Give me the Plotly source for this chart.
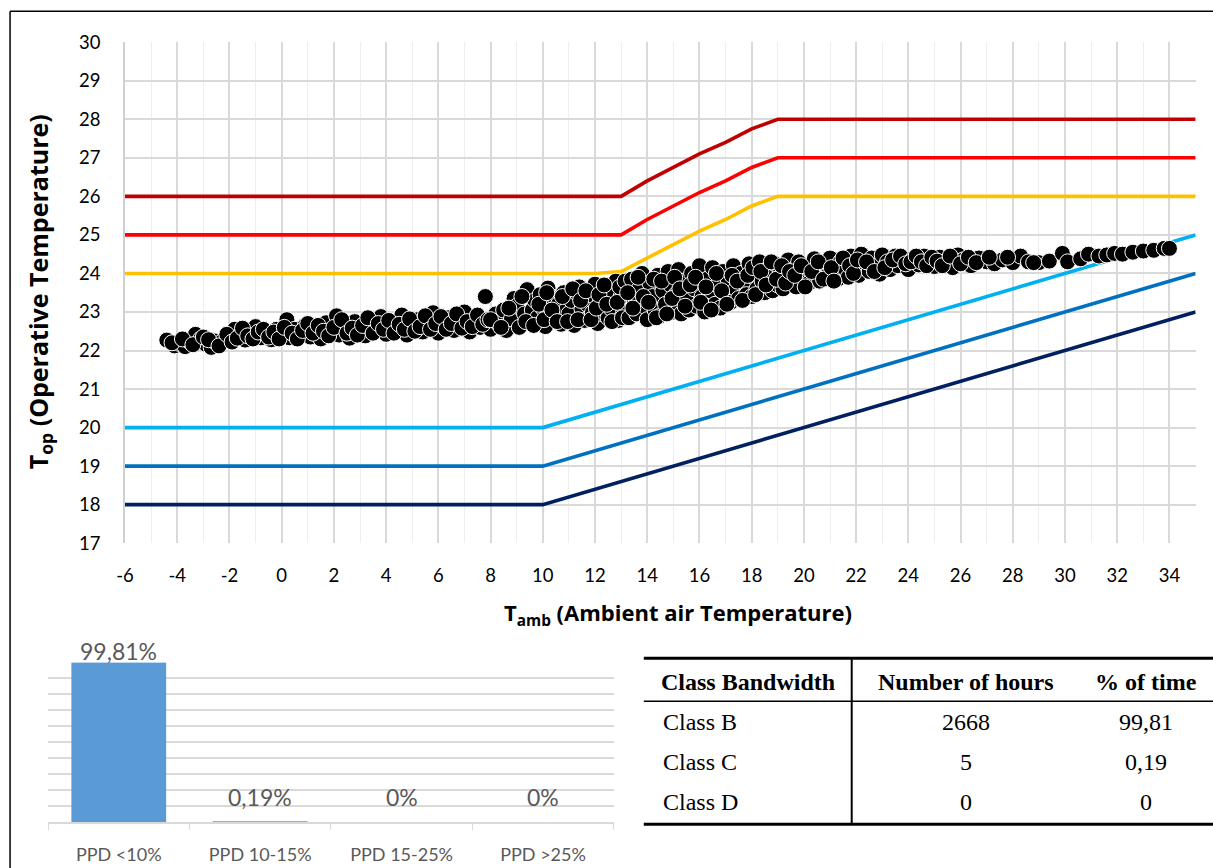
import plotly.graph_objects as go

# Layout is specified in target-page pixels (1213 x 868).  The html body keeps
# its default 8 px margin and the capture is slightly rescaled, so target pixels
# are mapped through SX / SY / OY before becoming paper fractions.
PAD = 8
SX, SY, OY = 0.993, 0.975, 3.0
W, H = 1214, 880

# ---------------- data ----------------
# comfort band limits (operative temperature vs ambient temperature)
band_x_hot = [-6, 13, 14, 15, 16, 17, 18, 19, 35]
cat_d_upper = [26, 26, 26.4, 26.75, 27.1, 27.4, 27.75, 28, 28]
cat_c_upper = [25, 25, 25.4, 25.75, 26.1, 26.4, 26.75, 27, 27]
band_x_b_upper = [-6, 12, 13, 14, 15, 16, 17, 18, 19, 35]
cat_b_upper = [24, 24, 24.05, 24.4, 24.75, 25.1, 25.4, 25.75, 26, 26]

band_x_cold = [-6, 10, 35]
cat_b_lower = [20, 20, 25]
cat_c_lower = [19, 19, 24]
cat_d_lower = [18, 18, 23]

# hourly measurements: ambient temperature
t_amb = [
    -4.4, -4.1, -3.9, -3.7, -3.5, -3.3, -3.1, -2.9, -2.7, -2.6, -2.3, -2.0,
    -1.8, -1.6, -1.4, -1.2, -1.0, -0.8, -0.6, -0.4, -0.2, 0.0, 0.2, 0.3,
    0.5, 0.7, 0.9, 1.1, 1.3, 1.5, 1.7, 1.9, 2.1, 2.2, 2.4, 2.6, 2.8, 3.0,
    3.2, 3.4, 3.6, 3.8, 4.0, 4.2, 4.4, 4.6, 4.8, 5.0, 5.2, 5.4, 5.6, 5.8,
    6.0, 6.2, 6.4, 6.6, 6.8, 7.0, 7.2, 7.4, 7.6, 7.8, 8.0, 8.1,
    -4.2, -3.8, -3.4, -3.0, -2.8, -2.4, -2.1, -1.9, -1.7, -1.5, -1.3, -1.1,
    -0.9, -0.7, -0.5, -0.3, -0.1, 0.1, 0.4, 0.6, 0.8, 1.0, 1.2, 1.4,
    1.6, 1.8, 2.0, 2.3, 2.5, 2.7, 2.9, 3.1, 3.3, 3.5, 3.7, 3.9,
    4.1, 4.3, 4.5, 4.7, 4.9, 5.1, 5.3, 5.5, 5.7, 5.9, 6.1, 6.3,
    6.5, 6.7, 6.9, 7.1, 7.3, 7.5, 7.7, 7.9,
    8.2, 8.3, 8.5, 8.6, 8.8, 8.9, 9.0, 9.1, 9.3, 9.4, 9.5, 9.6, 9.7, 9.8,
    9.9, 10.0, 10.1, 10.2, 10.3, 10.4, 10.5, 10.6, 10.7, 10.8, 10.9, 11.0,
    11.1, 11.2, 11.3, 11.4, 11.5, 11.6, 11.7, 11.8, 11.9, 12.0, 12.1, 12.2,
    12.3, 12.4, 12.5, 12.6, 12.7, 12.8, 12.9, 13.0, 13.1, 13.2,
    8.0, 8.4, 8.7, 9.2, 9.35, 9.65, 9.85, 10.05, 10.15, 10.35, 10.55, 10.75,
    10.95, 11.15, 11.35, 11.45, 11.65, 11.85, 12.05, 12.15, 12.35, 12.45, 12.65, 12.85,
    12.95, 13.05, 13.15,
    13.3, 13.4, 13.5, 13.6, 13.7, 13.8, 13.9, 14.0, 14.1, 14.2, 14.3, 14.4,
    14.5, 14.6, 14.7, 14.8, 14.9, 15.0, 15.1, 15.2, 15.3, 15.4, 15.5, 15.6,
    15.7, 15.8, 15.9, 16.0, 16.1, 16.2, 16.3, 16.4, 16.5, 16.6, 16.7, 16.8,
    16.9, 17.0, 17.1, 17.2, 17.3, 17.4, 17.5, 17.6, 17.7, 17.8, 17.9, 18.0,
    18.1,
    13.25, 13.45, 13.65, 13.85, 14.05, 14.25, 14.35, 14.55, 14.75, 14.95, 15.05, 15.25,
    15.45, 15.65, 15.85, 16.05, 16.25, 16.45, 16.65, 16.85, 17.05, 17.25, 17.45, 17.65,
    17.85, 18.05,
    18.2, 18.3, 18.4, 18.5, 18.6, 18.7, 18.8, 18.9, 19.0, 19.1, 19.2, 19.4,
    19.5, 19.6, 19.7, 19.8, 20.0, 20.1, 20.2, 20.4, 20.5, 20.6, 20.8, 20.9,
    21.0, 21.2, 21.3, 21.4, 21.6, 21.7, 21.8, 22.0, 22.1, 22.2, 22.3, 22.5,
    22.6, 22.8, 22.9, 23.0, 23.2, 23.3, 23.5, 23.6, 23.8, 24.0,
    18.15, 18.35, 18.55, 18.75, 18.95, 19.15, 19.3, 19.45, 19.65, 19.9, 20.05, 20.3,
    20.55, 20.75, 21.05, 21.15, 21.5, 21.75, 21.9, 22.05, 22.4, 22.7, 23.1, 23.4,
    23.7, 23.9,
    24.2, 24.4, 24.6, 24.8, 25.0, 25.2, 25.5, 25.7, 25.9, 26.1, 26.4, 26.7,
    27.0, 27.3, 27.6, 28.0, 28.3, 28.6, 29.0, 29.4, 29.9, 30.1, 30.6, 30.9,
    31.3, 31.6, 31.9, 32.2, 32.6, 33.0, 33.4, 33.8, 34.0,
    24.1, 24.3, 24.5, 24.7, 24.9, 25.1, 25.3, 25.6, 26.0, 26.3, 26.6, 27.1,
    27.8, 28.8,
]
# hourly measurements: operative temperature
t_op = [
    22.27, 22.12, 22.18, 22.10, 22.22, 22.42, 22.30, 22.16, 22.08, 22.25, 22.22, 22.30,
    22.55, 22.40, 22.27, 22.50, 22.62, 22.33, 22.45, 22.28, 22.55, 22.40, 22.80, 22.33,
    22.55, 22.42, 22.65, 22.35, 22.58, 22.30, 22.72, 22.48, 22.90, 22.40, 22.62, 22.32, 22.75, 22.50,
    22.38, 22.68, 22.52, 22.88, 22.42, 22.70, 22.55, 22.92, 22.40, 22.65, 22.80, 22.48, 22.72, 22.98,
    22.45, 22.62, 22.85, 22.52, 22.70, 23.00, 22.48, 22.78, 22.60, 23.40, 22.55, 22.88,
    22.20, 22.30, 22.15, 22.35, 22.28, 22.12, 22.42, 22.22, 22.32, 22.58, 22.38, 22.30,
    22.48, 22.55, 22.35, 22.48, 22.30, 22.60, 22.45, 22.30, 22.52, 22.70, 22.45, 22.65,
    22.50, 22.38, 22.60, 22.80, 22.45, 22.58, 22.40, 22.65, 22.85, 22.45, 22.70, 22.55,
    22.78, 22.45, 22.68, 22.55, 22.82, 22.50, 22.62, 22.90, 22.55, 22.70, 22.88, 22.55,
    22.70, 22.95, 22.58, 22.75, 22.62, 22.92, 22.68, 22.80,
    22.95, 22.70, 23.05, 22.52, 22.82, 23.35, 23.15, 22.60, 22.95, 23.58, 22.72, 23.05, 23.30, 22.85,
    23.45, 23.10, 22.62, 23.62, 23.40, 22.90, 23.30, 23.20, 22.68, 23.50, 23.05, 22.95,
    23.30, 22.65, 23.50, 23.65, 23.08, 22.78, 23.20, 23.45, 22.98, 23.72, 22.70, 23.25,
    22.95, 23.55, 22.85, 23.10, 23.45, 23.80, 22.78, 23.40, 23.00, 23.62,
    22.80, 22.60, 23.10, 23.40, 22.75, 22.65, 23.20, 22.80, 23.50, 23.05, 22.75, 23.40,
    22.75, 23.60, 22.80, 23.30, 23.55, 22.80, 23.10, 23.45, 23.70, 23.20, 22.75, 23.25,
    23.65, 22.85, 23.80,
    22.85, 23.85, 23.30, 22.95, 23.60, 24.00, 23.15, 22.80, 23.75, 23.40, 23.05, 23.95,
    22.90, 23.55, 23.20, 24.05, 23.70, 23.00, 23.45, 24.10, 22.95, 23.80, 23.30, 23.05,
    24.00, 23.60, 23.15, 24.20, 23.40, 23.00, 23.85, 23.55, 24.15, 23.20, 23.70, 23.10,
    24.05, 23.45, 23.85, 23.25, 24.20, 23.60, 23.35, 24.00, 23.75, 23.45, 24.25, 23.40,
    23.90,
    23.50, 23.10, 23.90, 23.40, 23.25, 23.85, 22.85, 23.80, 22.95, 23.35, 23.90, 23.60,
    23.15, 23.70, 23.90, 23.25, 23.65, 23.05, 24.00, 23.55, 23.20, 23.95, 23.80, 23.30,
    23.95, 24.15,
    23.60, 24.30, 23.80, 23.50, 24.10, 23.95, 23.55, 24.25, 23.70, 24.00, 23.60, 24.35,
    23.85, 24.10, 23.65, 24.30, 23.90, 24.15, 23.75, 24.38, 24.00, 23.80, 24.25, 23.95,
    24.40, 24.05, 23.85, 24.30, 24.10, 23.90, 24.45, 24.15, 23.95, 24.50, 24.25, 24.05,
    24.40, 24.20, 23.98, 24.48, 24.30, 24.10, 24.45, 24.20, 24.35, 24.10,
    23.45, 24.05, 23.70, 24.30, 23.85, 24.20, 23.75, 24.05, 23.95, 24.20, 23.65, 24.05,
    24.30, 23.85, 24.15, 23.80, 24.40, 24.20, 24.00, 24.35, 24.30, 24.05, 24.15, 24.35,
    24.45, 24.25,
    24.40, 24.22, 24.45, 24.30, 24.18, 24.42, 24.30, 24.15, 24.48, 24.35, 24.20, 24.40,
    24.30, 24.25, 24.35, 24.28, 24.45, 24.30, 24.28, 24.32, 24.52, 24.30, 24.38, 24.50,
    24.45, 24.48, 24.52, 24.50, 24.55, 24.58, 24.60, 24.65, 24.65,
    24.30, 24.45, 24.30, 24.20, 24.42, 24.32, 24.20, 24.45, 24.25, 24.42, 24.28, 24.42,
    24.42, 24.28,
]

# PPD distribution (% of occupied hours)
ppd_classes = ["PPD <10%", "PPD 10-15%", "PPD 15-25%", "PPD >25%"]
ppd_share = [99.81, 0.19, 0, 0]

# summary table
table_header = ["Class Bandwidth", "Number of hours", "% of time"]
table_class = ["Class B", "Class C", "Class D"]
table_hours = [2668, 5, 0]
table_pct = [99.81, 0.19, 0]

x_ticks = list(range(-6, 35, 2))


def fx(px):
    """target pixel column -> paper fraction"""
    return (px / SX - PAD) / W


def fy(py):
    """target pixel row -> paper fraction"""
    return 1 - ((py - OY) / SY - PAD) / H


def comma(v):
    return f"{v:g}".replace(".", ",")


SANS = "Lato, 'Open Sans', sans-serif"
TITLE = "'Open Sans', Lato, sans-serif"
SERIF = "'Liberation Serif', 'Times New Roman', serif"

fig = go.Figure()

# ---------------- main chart ----------------
lines = [
    (band_x_hot, cat_d_upper, "#C00000"),
    (band_x_hot, cat_c_upper, "#FF0000"),
    (band_x_b_upper, cat_b_upper, "#FFC000"),
    (band_x_cold, cat_b_lower, "#00B0F0"),
    (band_x_cold, cat_c_lower, "#0070C0"),
    (band_x_cold, cat_d_lower, "#002060"),
]
for xs, ys, col in lines:
    fig.add_trace(go.Scatter(
        x=xs, y=ys, mode="lines", line=dict(color=col, width=3.6),
        xaxis="x", yaxis="y", showlegend=False,
    ))

fig.add_trace(go.Scatter(
    x=t_amb, y=t_op, mode="markers",
    marker=dict(size=16, color="black", line=dict(color="white", width=1)),
    xaxis="x", yaxis="y", showlegend=False,
))

# ---------------- PPD bar chart ----------------
fig.add_trace(go.Bar(
    x=ppd_classes, y=ppd_share,
    marker=dict(color="#5B9BD5", line=dict(width=0)),
    xaxis="x2", yaxis="y2", showlegend=False,
))

fig.update_layout(
    width=W, height=H,
    margin=dict(l=0, r=0, t=0, b=0),
    paper_bgcolor="white", plot_bgcolor="white",
    bargap=0.33,
    xaxis=dict(
        domain=[fx(124), fx(1195)], range=[-6, 35],
        tickvals=x_ticks, ticktext=[str(v) for v in x_ticks],
        showgrid=True, gridcolor="#d9d9d9", gridwidth=1.5,
        minor=dict(dtick=1, showgrid=True, gridcolor="#eeeeee", gridwidth=1.2),
        zeroline=False, showline=False,
        ticks="", ticklabelstandoff=19,
        tickfont=dict(family=SANS, size=18.5, color="black"),
        anchor="y",
    ),
    yaxis=dict(
        domain=[fy(542), fy(41)], range=[17, 30],
        dtick=1, showgrid=True, gridcolor="#d9d9d9", gridwidth=1.5,
        zeroline=False, showline=True, linecolor="#d0d0d0", linewidth=1.5,
        ticks="", ticklabelstandoff=19,
        tickfont=dict(family=SANS, size=18.5, color="black"),
        anchor="x",
    ),
    xaxis2=dict(
        domain=[fx(47), fx(613)], anchor="y2",
        showline=True, linecolor="#d9d9d9", linewidth=1.5,
        ticks="outside", tickson="boundaries", ticklen=6, tickcolor="#d9d9d9",
        ticklabelstandoff=15,
        tickfont=dict(family=SANS, size=18, color="#595959"),
        showgrid=False,
    ),
    yaxis2=dict(
        domain=[fy(821), fy(661)], anchor="x2", range=[0, 100],
        dtick=10, showgrid=True, gridcolor="#d9d9d9", gridwidth=1.5,
        showticklabels=False, zeroline=False, showline=False,
    ),
)

annotations = [
    dict(text="<b>T<sub>op</sub> (Operative Temperature)</b>", textangle=-90,
         x=fx(38), y=fy(291), xref="paper", yref="paper",
         xanchor="center", yanchor="middle",
         showarrow=False, font=dict(family=TITLE, size=25, color="black")),
    dict(text="<b>T<sub>amb</sub> (Ambient air Temperature)</b>",
         x=fx(677), y=fy(613), xref="paper", yref="paper",
         xanchor="center", yanchor="middle",
         showarrow=False, font=dict(family=TITLE, size=22, color="black")),
]

# bar value labels, placed on each bar's value
for cat, v in zip(ppd_classes, ppd_share):
    annotations.append(dict(
        text=comma(v) + "%", x=cat, y=v, xref="x2", yref="y2",
        xanchor="center", yanchor="bottom", yshift=-4 if v > 1 else 9,
        showarrow=False, font=dict(family=SANS, size=23, color="#595959")))

# table text
col_centers = [747, 965, 1145]
for cx, head in zip(col_centers, table_header):
    annotations.append(dict(
        text=f"<b>{head}</b>", x=fx(cx), y=fy(681), xref="paper", yref="paper",
        xanchor="center", yanchor="middle",
        showarrow=False, font=dict(family=SERIF, size=24, color="black")))
row_y = [721, 761, 801]
for ry, cls, hrs, pct in zip(row_y, table_class, table_hours, table_pct):
    annotations.append(dict(
        text=cls, x=fx(660), y=fy(ry), xref="paper", yref="paper",
        xanchor="left", yanchor="middle", showarrow=False,
        font=dict(family=SERIF, size=24, color="black")))
    annotations.append(dict(
        text=str(hrs), x=fx(965), y=fy(ry), xref="paper", yref="paper",
        xanchor="center", yanchor="middle", showarrow=False,
        font=dict(family=SERIF, size=24, color="black")))
    annotations.append(dict(
        text=comma(pct), x=fx(1145), y=fy(ry), xref="paper", yref="paper",
        xanchor="center", yanchor="middle", showarrow=False,
        font=dict(family=SERIF, size=24, color="black")))

fig.update_layout(annotations=annotations)

shapes = [
    # frame
    dict(type="line", x0=fx(9), x1=fx(9), y0=fy(10), y1=0,
         line=dict(color="black", width=1.5)),
    dict(type="line", x0=fx(9), x1=1, y0=fy(10), y1=fy(10),
         line=dict(color="black", width=1.5)),
    # table rules
    dict(type="line", x0=fx(643), x1=1, y0=fy(657), y1=fy(657),
         line=dict(color="black", width=3)),
    dict(type="line", x0=fx(643), x1=1, y0=fy(700), y1=fy(700),
         line=dict(color="black", width=1.5)),
    dict(type="line", x0=fx(643), x1=1, y0=fy(823), y1=fy(823),
         line=dict(color="black", width=3)),
    dict(type="line", x0=fx(851), x1=fx(851), y0=fy(657), y1=fy(823),
         line=dict(color="black", width=2)),
]
for s in shapes:
    s.update(xref="paper", yref="paper")
fig.update_layout(shapes=shapes)

fig.write_html("out.html")
